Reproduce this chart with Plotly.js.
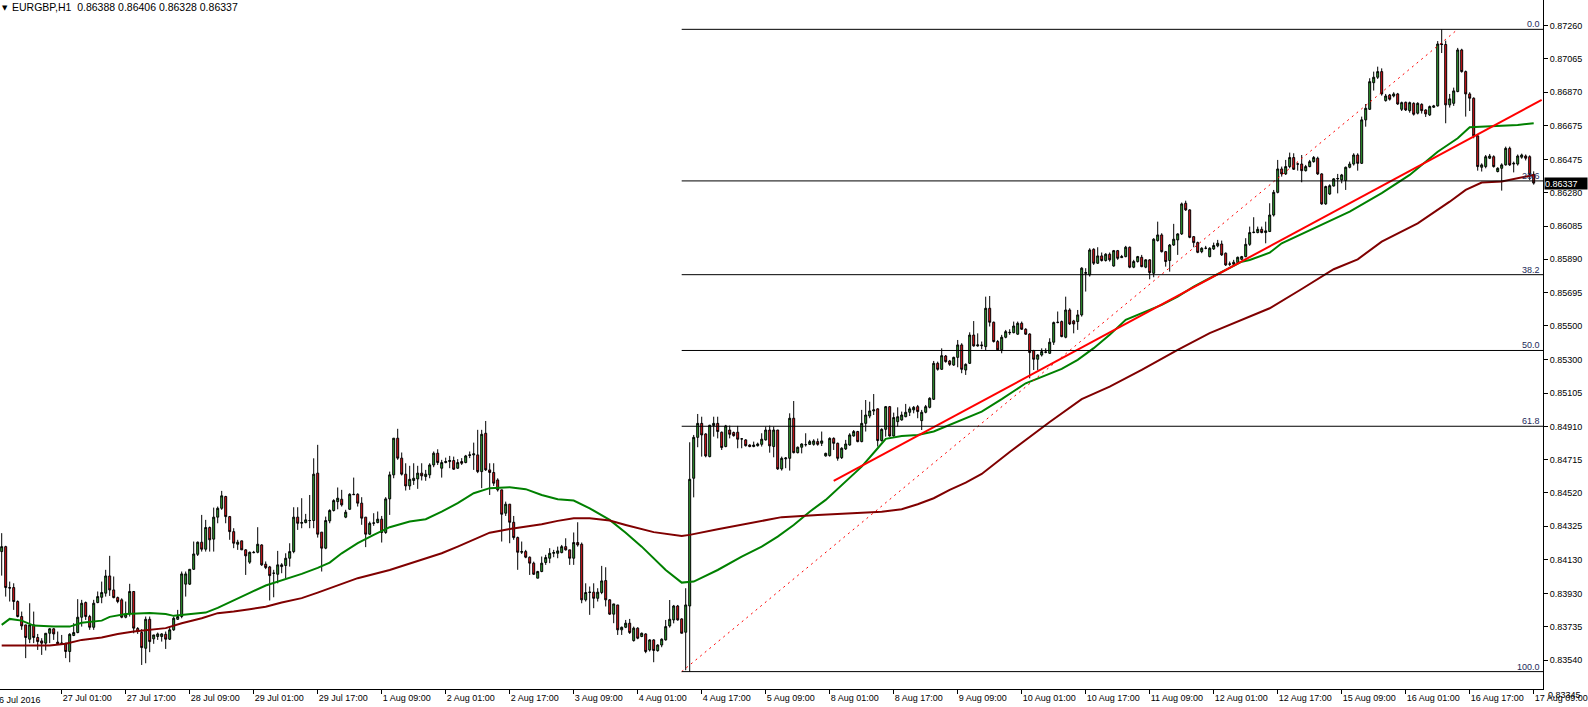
<!DOCTYPE html>
<html><head><meta charset="utf-8">
<script src="https://cdn.plot.ly/plotly-3.0.1.min.js"></script>
<style>html,body{margin:0;padding:0;background:#fff;overflow:hidden}#chart{width:1588px;height:707px}</style>
</head><body><div id="chart"></div>
<script>
// ---- chart data (prices in points, 1 point = 0.00001) ----
const symbolTitle = "EURGBP,H1";
const lastOHLC = ["0.86388", "0.86406", "0.86328", "0.86337"];

const openPts = [
84176,84205,83965,83965,83883,83795,83746,83662,83746,83672,
83652,83639,83697,83723,83645,83635,83639,83590,83684,83701,
83791,83877,83795,83732,83877,83908,83932,84033,83951,83906,
83893,83791,83811,83942,83725,83701,83609,83779,83664,83678,
83678,83691,83662,83717,83779,83795,83985,83985,84072,84160,
84231,84190,84317,84249,84378,84430,84499,84381,84293,84219,
84239,84186,84114,84172,84172,84215,84102,84086,84049,84043,
84088,84094,84137,84176,84378,84342,84346,84358,84358,84636,
84290,84196,84356,84417,84469,84483,84378,84424,84512,84512,
84460,84378,84278,84342,84346,84366,84288,84485,84626,84841,
84724,84630,84561,84593,84602,84636,84616,84626,84684,84753,
84665,84698,84704,84710,84665,84704,84698,84740,84743,84743,
84645,84870,84655,84640,84596,84538,84401,84454,84348,84258,
84172,84176,84143,84108,84020,84059,84112,84137,84166,84166,
84170,84205,84186,84137,84229,84219,83893,83936,83938,83902,
83936,84006,83893,83809,83863,83717,83732,83756,83654,83727,
83678,83693,83599,83658,83595,83628,83658,83740,83775,83857,
83781,83703,83857,84606,84846,84928,84866,84733,84915,84928,
84876,84792,84889,84874,84876,84837,84831,84801,84792,84797,
84805,84831,84889,84792,84889,84661,84720,84723,84958,84756,
84788,84803,84805,84805,84821,84811,84737,84739,84840,84811,
84727,84778,84801,84854,84880,84821,84928,84971,85001,85013,
84827,84893,85026,84854,84938,84948,84967,84993,85007,85026,
84944,84993,85022,85069,85280,85245,85323,85294,85270,85315,
85388,85241,85280,85446,85382,85388,85378,85603,85521,85408,
85359,85433,85462,85460,85451,85515,85480,85452,85355,85304,
85329,85347,85339,85404,85519,85525,85433,85593,85529,85525,
85564,85808,85799,85949,85867,85910,85883,85920,85851,85941,
85900,85906,85961,85844,85877,85902,85844,85887,85808,86000,
86033,85935,85883,85974,86004,86039,86219,86180,86023,85988,
85935,85955,85906,85951,85969,85980,85926,85861,85861,85871,
85890,85906,85978,86047,86047,86066,86047,86053,86150,86283,
86420,86391,86434,86487,86449,86449,86410,86434,86463,86483,
86391,86215,86273,86320,86362,86356,86352,86430,86449,86502,
86453,86708,86770,86926,86958,86991,86821,86854,86848,86860,
86770,86811,86762,86805,86747,86799,86766,86737,86782,86790,
87153,87150,86796,86805,86874,87118,86991,86860,86835,86614,
86430,86434,86483,86492,86405,86424,86444,86541,86449,86449,
86489,86496,86492,86388];

const highPts = [
84284,84210,84000,83990,83890,83824,83746,83873,83824,83693,
83668,83697,83727,83727,83707,83687,83639,83697,83756,83897,
83893,83883,83805,83893,83942,84000,84069,84151,84030,83912,
83902,83883,83987,83942,83733,83721,83795,83795,83687,83701,
83697,83707,83736,83795,83834,84059,84059,84072,84235,84235,
84391,84362,84323,84434,84440,84532,84503,84385,84313,84245,
84239,84190,84176,84180,84319,84219,84118,84092,84069,84180,
84108,84166,84225,84436,84436,84489,84397,84508,84723,84802,
84290,84381,84424,84483,84552,84538,84421,84518,84610,84518,
84495,84378,84352,84401,84411,84385,84495,84645,84841,84896,
84757,84694,84679,84694,84679,84694,84655,84694,84763,84776,
84714,84727,84737,84733,84718,84724,84743,84763,84815,84890,
84890,84942,84694,84694,84606,84538,84469,84454,84385,84264,
84235,84186,84147,84117,84063,84147,84157,84196,84186,84205,
84215,84254,84186,84288,84348,84229,83990,83971,83990,83961,
84092,84084,83897,83869,83863,83736,83775,83781,83736,83732,
83701,83697,83662,83662,83632,83667,83775,83892,83863,83863,
83785,83961,84817,84860,84983,84967,84870,84919,84967,84967,
84880,84919,84915,84880,84913,84840,84835,84805,84821,84815,
84870,84909,84915,84909,84889,84733,84729,84987,85059,84792,
84811,84870,84831,84835,84839,84880,84756,84846,84846,84815,
84788,84831,84870,84889,84884,85007,85065,85055,85100,85016,
84899,85030,85030,84991,85022,84997,85042,85026,85030,85036,
85007,85036,85081,85294,85290,85368,85329,85300,85319,85417,
85398,85280,85462,85528,85456,85408,85671,85675,85525,85417,
85447,85476,85480,85525,85525,85525,85486,85456,85359,85333,
85368,85368,85427,85525,85584,85531,85671,85603,85535,85593,
85844,85838,85955,85955,85961,85930,85926,85930,85945,85945,
85916,85969,85965,85887,85910,85916,85890,85890,86014,86111,
86043,85939,85980,86098,86043,86223,86234,86184,86027,85994,
85961,85969,85961,85988,86004,86000,85930,85877,85887,85906,
85910,86014,86082,86137,86082,86082,86111,86219,86297,86473,
86434,86473,86516,86512,86457,86502,86444,86473,86496,86492,
86395,86322,86330,86366,86391,86391,86434,86463,86512,86512,
86727,86801,86952,86991,87020,87010,86860,86860,86870,86866,
86815,86815,86815,86811,86811,86805,86770,86792,86796,87170,
87239,87173,86860,86897,87130,87125,86997,86870,86840,86620,
86453,86502,86508,86500,86430,86453,86551,86551,86463,86505,
86510,86505,86500,86406];

const lowPts = [
84035,83912,83883,83834,83790,83717,83551,83639,83639,83599,
83570,83596,83639,83658,83629,83632,83551,83527,83680,83697,
83736,83775,83717,83717,83873,83873,83912,83916,83902,83873,
83785,83785,83795,83697,83693,83511,83521,83586,83635,83658,
83648,83605,83658,83711,83775,83785,83912,83980,84069,84150,
84176,84176,84176,84176,84342,84421,84342,84245,84196,84186,
84186,84039,84104,84166,84166,84092,84073,83889,83908,83990,
84049,84020,84088,84166,84303,84313,84342,84313,84313,84258,
84059,84190,84342,84411,84424,84440,84372,84421,84508,84440,
84333,84202,84274,84327,84342,84229,84280,84391,84606,84714,
84622,84534,84538,84567,84544,84593,84591,84606,84671,84684,
84610,84694,84665,84655,84661,84684,84694,84724,84655,84636,
84548,84649,84508,84561,84528,84235,84385,84225,84245,84069,
84162,84137,84039,84039,84020,84055,84098,84108,84143,84137,
84166,84182,84098,84098,84205,83873,83883,83805,83844,83883,
83926,83854,83805,83756,83687,83687,83727,83693,83648,83662,
83674,83580,83590,83527,83589,83615,83654,83730,83755,83771,
83697,83480,83472,84494,84788,84733,84729,84729,84850,84840,
84772,84788,84840,84850,84782,84782,84792,84788,84788,84792,
84792,84827,84756,84729,84655,84651,84665,84651,84752,84752,
84752,84792,84801,84797,84797,84795,84733,84733,84772,84709,
84719,84772,84797,84850,84817,84817,84880,84958,84977,84792,
84821,84850,84850,84850,84909,84944,84964,84971,84987,84958,
84889,84987,85016,85065,85237,85241,85284,85265,85265,85257,
85222,85212,85276,85378,85378,85363,85355,85496,85402,85355,
85339,85427,85447,85456,85447,85476,85447,85192,85241,85241,
85320,85339,85335,85388,85515,85433,85427,85505,85456,85476,
85554,85701,85789,85857,85863,85877,85877,85877,85847,85887,
85898,85902,85838,85838,85871,85844,85838,85773,85785,85994,
85930,85847,85818,85969,85916,86033,86174,86014,85961,85926,
85926,85949,85902,85945,85961,85910,85851,85851,85853,85867,
85887,85902,85969,86043,86043,86043,85984,86050,86141,86277,
86375,86385,86424,86414,86410,86342,86405,86430,86457,86385,
86210,86210,86268,86317,86277,86336,86297,86424,86440,86410,
86449,86668,86766,86880,86948,86850,86815,86821,86840,86796,
86760,86760,86750,86733,86740,86745,86725,86731,86778,86786,
87100,86688,86780,86790,86870,86985,86727,86760,86600,86410,
86405,86424,86478,86428,86400,86293,86440,86438,86400,86440,
86480,86470,86355,86328];

const closePts = [
84205,83965,83962,83883,83795,83740,83672,83746,83672,83648,
83639,83697,83723,83693,83635,83639,83590,83691,83701,83791,
83873,83795,83732,83873,83912,83936,84033,83951,83906,83883,
83791,83810,83942,83727,83707,83613,83779,83648,83687,83693,
83693,83662,83717,83785,83795,84045,84045,84072,84162,84231,
84190,84317,84245,84378,84430,84503,84381,84293,84225,84231,
84186,84151,84172,84170,84219,84098,84082,84035,84049,84098,
84098,84137,84176,84378,84342,84346,84362,84358,84630,84278,
84196,84358,84417,84475,84489,84450,84407,84512,84510,84460,
84372,84278,84342,84344,84366,84288,84485,84626,84841,84724,
84630,84561,84600,84606,84636,84620,84630,84684,84753,84698,
84698,84704,84710,84659,84698,84694,84737,84743,84749,84645,
84864,84655,84640,84577,84538,84395,84454,84348,84258,84172,
84176,84143,84108,84043,84059,84108,84141,84166,84170,84180,
84205,84186,84137,84229,84215,83893,83936,83938,83902,83938,
84004,83893,83809,83869,83717,83732,83756,83701,83727,83668,
83697,83590,83658,83596,83628,83662,83736,83779,83857,83775,
83697,83863,84600,84846,84928,84860,84737,84917,84928,84880,
84786,84913,84864,84856,84835,84837,84797,84792,84801,84807,
84835,84889,84796,84889,84661,84723,84725,84958,84756,84788,
84807,84803,84821,84825,84805,84825,84752,84840,84811,84723,
84782,84807,84860,84880,84821,84928,84977,85001,85007,84827,
84893,85026,84854,84962,84967,84977,84993,85013,85022,84997,
84993,85026,85075,85280,85245,85325,85290,85274,85315,85388,
85245,85274,85446,85382,85388,85384,85603,85521,85408,85359,
85433,85466,85460,85499,85515,85480,85451,85343,85304,85329,
85349,85345,85404,85519,85521,85437,85593,85511,85511,85564,
85838,85812,85945,85867,85910,85883,85920,85887,85941,85896,
85906,85961,85844,85877,85906,85847,85887,85812,86008,86033,
85935,85877,85974,86008,86039,86215,86180,86019,85988,85931,
85955,85955,85955,85971,85984,85916,85857,85863,85873,85902,
85906,85978,86047,86049,86066,86047,86057,86150,86283,86420,
86391,86434,86487,86418,86449,86410,86434,86463,86487,86391,
86215,86317,86322,86362,86364,86385,86430,86449,86502,86453,
86708,86776,86932,86958,86991,86860,86848,86829,86860,86801,
86809,86766,86809,86741,86805,86762,86743,86786,86790,87153,
87150,86796,86831,86878,87118,86991,86860,86835,86614,86434,
86444,86492,86496,86434,86424,86444,86541,86444,86453,86496,
86502,86483,86388,86337];

// moving averages (bar index, value in points)
const maFastBars = [0,2,5,8,13,17,20,25,27,31,37,41,43,47,51,54,58,62,66,70,75,79,82,85,89,93,97,102,106,110,114,118,122,127,131,135,139,143,147,152,156,160,163,166,170,173,179,185,190,194,198,202,206,210,215,219,221,225,229,233,237,245,250,256,265,269,273,277,281,285,290,294,298,302,306,310,312,317,320,329,337,345,352,359,364,367,370,379,383];
const maFastPts = [83746,83781,83771,83742,83736,83736,83758,83771,83793,83810,83816,83810,83799,83810,83818,83846,83888,83934,83977,84006,84045,84080,84111,84166,84225,84274,84319,84352,84366,84410,84460,84518,84548,84553,84542,84508,84483,84475,84430,84362,84287,84205,84137,84068,83994,84000,84068,84147,84205,84264,84332,84410,84479,84567,84674,84782,84837,84854,84860,84880,84919,84997,85070,85163,85247,85300,85369,85447,85535,85574,85623,85671,85730,85779,85828,85876,85886,85929,85984,86082,86170,86278,86385,86521,86600,86665,86668,86678,86688];
const maSlowBars = [0,12,16,20,25,29,33,37,41,45,50,54,58,62,66,70,75,79,82,89,97,106,110,114,118,122,127,131,135,139,143,147,152,156,160,163,170,172,179,187,195,204,212,220,225,229,233,237,241,245,252,262,270,277,285,294,302,310,317,325,333,339,345,354,362,366,370,375,379,383];
const maSlowPts = [83625,83625,83635,83658,83672,83693,83707,83717,83727,83756,83785,83815,83824,83838,83853,83877,83903,83935,83961,84020,84068,84133,84166,84205,84248,84287,84309,84322,84336,84356,84372,84372,84358,84332,84307,84290,84268,84274,84307,84342,84378,84391,84401,84410,84424,84454,84489,84538,84580,84631,84760,84936,85070,85143,85241,85359,85457,85535,85603,85716,85832,85890,85994,86101,86228,86297,86340,86346,86366,86385];

// trend line and fibonacci anchors
const trendBars = [208, 385];
const trendPts = [84590, 86825];
const fiboBars = [170, 364];
const fiboLowPts = 83472;
const fiboHighPts = 87239;
const fiboLevels = [0.0, 23.6, 38.2, 50.0, 61.8, 100.0];

// axis ticks
const xTickBars = [15,31,47,63,79,95,111,127,143,159,175,191,207,223,239,255,271,287,303,319,335,351,367,383];
const xTickLabels = ["27 Jul 01:00","27 Jul 17:00","28 Jul 09:00","29 Jul 01:00","29 Jul 17:00","1 Aug 09:00","2 Aug 01:00","2 Aug 17:00","3 Aug 09:00","4 Aug 01:00","4 Aug 17:00","5 Aug 09:00","8 Aug 01:00","8 Aug 17:00","9 Aug 09:00","10 Aug 01:00","10 Aug 17:00","11 Aug 09:00","12 Aug 01:00","12 Aug 17:00","15 Aug 09:00","16 Aug 01:00","16 Aug 17:00","17 Aug 09:00"];
const firstDateLabel = "26 Jul 2016";
const firstDateBar = -1;
const yTickValues = [0.83540,0.83735,0.83930,0.84130,0.84325,0.84520,0.84715,0.84910,0.85105,0.85300,0.85500,0.85695,0.85890,0.86085,0.86280,0.86475,0.86675,0.86870,0.87065,0.87260];
const yBottomLabel = 0.83345;

// ---- drawing ----
const P = v => v / 100000;
const xBars = openPts.map((_, i) => i);
const xRange = [-0.425, 385.325];
const yRange = [0.83370, 0.87411];
const FONT = 'Liberation Sans, Arial, sans-serif';

const traces = [
  {
    type: 'candlestick', x: xBars,
    open: openPts.map(P), high: highPts.map(P), low: lowPts.map(P), close: closePts.map(P),
    increasing: {line: {color: '#000000', width: 1}, fillcolor: '#32a532'},
    decreasing: {line: {color: '#000000', width: 1}, fillcolor: '#e8161b'},
    whiskerwidth: 0, hoverinfo: 'skip', showlegend: false
  },
  {type: 'scatter', mode: 'lines', x: maFastBars, y: maFastPts.map(P), line: {color: '#008000', width: 2}, hoverinfo: 'skip'},
  {type: 'scatter', mode: 'lines', x: maSlowBars, y: maSlowPts.map(P), line: {color: '#800000', width: 2}, hoverinfo: 'skip'},
  {type: 'scatter', mode: 'lines', x: fiboBars, y: [P(fiboLowPts), P(fiboHighPts)], line: {color: '#ff0000', width: 1, dash: '2px,4px'}, hoverinfo: 'skip'},
  {type: 'scatter', mode: 'lines', x: trendBars, y: trendPts.map(P), line: {color: '#ff0000', width: 2}, hoverinfo: 'skip'}
];

const fibRange = P(fiboHighPts) - P(fiboLowPts);
const shapes = [];
const annotations = [];
fiboLevels.forEach(lv => {
  const price = P(fiboHighPts) - lv / 100 * fibRange;
  shapes.push({type: 'line', xref: 'x', yref: 'y', x0: fiboBars[0], x1: xRange[1] + 2, y0: price, y1: price, line: {color: '#000000', width: 1}});
  annotations.push({xref: 'paper', yref: 'y', x: 1, y: price, xanchor: 'right', yanchor: 'bottom', xshift: -1, yshift: -2,
    text: lv.toFixed(1), showarrow: false, font: {family: FONT, size: 9, color: '#1c2a5a'}});
});

const toPaperY = v => (v - yRange[0]) / (yRange[1] - yRange[0]);
const toPaperX = b => (b - xRange[0]) / (xRange[1] - xRange[0]);

annotations.push(
  {xref: 'paper', yref: 'paper', x: 0, y: 1, xanchor: 'left', yanchor: 'top', xshift: 0, yshift: -2,
   text: '\u25BC', showarrow: false, font: {family: 'DejaVu Sans', size: 7, color: '#000'}},
  {xref: 'paper', yref: 'paper', x: 0, y: 1, xanchor: 'left', yanchor: 'top', xshift: 10, yshift: 1,
   text: symbolTitle + '\u00a0\u00a0' + lastOHLC.join(' '), showarrow: false, font: {family: FONT, size: 10.5, color: '#000'}},
  {xref: 'paper', yref: 'paper', x: toPaperX(firstDateBar), y: 0, xanchor: 'left', yanchor: 'top', xshift: -6, yshift: -4,
   text: firstDateLabel, showarrow: false, font: {family: FONT, size: 9, color: '#000'}},
  {xref: 'paper', yref: 'paper', x: 1, y: toPaperY(yBottomLabel), xanchor: 'left', yanchor: 'middle', xshift: 3, yshift: -2,
   text: yBottomLabel.toFixed(5), showarrow: false, font: {family: FONT, size: 9, color: '#000'}},
  {xref: 'paper', yref: 'y', x: 1, y: P(closePts[closePts.length - 1]), xanchor: 'left', yanchor: 'middle', xshift: 1,
   text: P(closePts[closePts.length - 1]).toFixed(5), showarrow: false, bgcolor: '#000000', width: 42, height: 11, align: 'left',
   borderpad: 0, font: {family: FONT, size: 9, color: '#ffffff'}}
);

const layout = {
  width: 1588, height: 707,
  margin: {l: 0, r: 45, t: 0, b: 18, pad: 0},
  paper_bgcolor: '#ffffff', plot_bgcolor: '#ffffff',
  showlegend: false, dragmode: false,
  font: {family: FONT, size: 9, color: '#000'},
  xaxis: {
    type: 'linear', range: xRange, showgrid: false, zeroline: false,
    showline: true, linecolor: '#000', linewidth: 1,
    ticks: 'outside', ticklen: 4, tickcolor: '#000', tickwidth: 1,
    tickmode: 'array', tickvals: xTickBars, ticktext: xTickLabels,
    ticklabelposition: 'outside right', tickfont: {family: FONT, size: 9, color: '#000'},
    rangeslider: {visible: false}, fixedrange: true
  },
  yaxis: {
    range: yRange, side: 'right', showgrid: false, zeroline: false,
    showline: true, linecolor: '#000', linewidth: 1,
    ticks: 'outside', ticklen: 4, tickcolor: '#000', tickwidth: 1,
    tickmode: 'array', tickvals: yTickValues, tickformat: '.5f',
    tickfont: {family: FONT, size: 9, color: '#000'}, fixedrange: true
  },
  shapes: shapes,
  annotations: annotations
};

Plotly.newPlot('chart', traces, layout, {staticPlot: true, displayModeBar: false});
</script>
</body></html>
